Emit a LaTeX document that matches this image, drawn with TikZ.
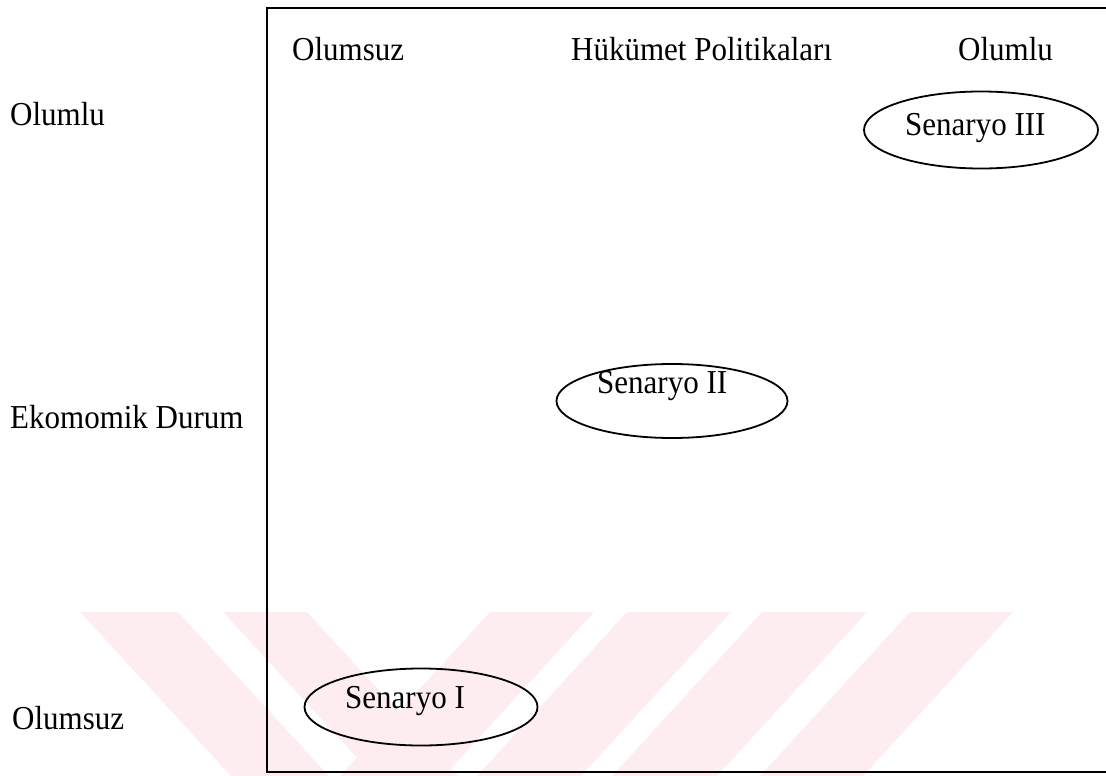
\documentclass[tikz,border=0pt]{standalone}
\usepackage{fontspec}
\usepackage{graphicx}
\setmainfont{Liberation Serif}
\usetikzlibrary{shapes.geometric}
\definecolor{wmpink}{RGB}{253,237,240}
\newcommand\stretchtxt[1]{\scalebox{1}[1.08]{#1}}
\tikzset{
  lbl/.style={font=\fontsize{31}{37}\selectfont, inner sep=0pt, anchor=base west},
  scen/.style={draw, ellipse, line width=1.8pt, inner sep=0pt},
  frameline/.style={line width=2.4pt},
  wm/.style={fill=wmpink, draw=none}
}
\begin{document}
\begin{tikzpicture}[x=1pt,y=-1pt]
\useasboundingbox (0,0) rectangle (1106,776);
% watermark
\fill[wm] (80,612) -- (178,612) -- (329,776) -- (231,776) -- cycle;
\fill[wm] (223,612) -- (307,612) -- (458,776) -- (374,776) -- cycle;
\fill[wm] (490,612) -- (594,612) -- (444,776) -- (340,776) -- cycle;
\fill[wm] (627,612) -- (731,612) -- (581,776) -- (477,776) -- cycle;
\fill[wm] (762,612) -- (867,612) -- (717,776) -- (612,776) -- cycle;
\fill[wm] (910,612) -- (1013,612) -- (863,776) -- (760,776) -- cycle;
% frame
\coordinate (tr) at (1106,8);
\coordinate (tl) at (267,8);
\coordinate (bl) at (267,772);
\coordinate (br) at (1106,772);
\draw[frameline] (tr) -- (tl) -- (bl) -- (br);
% axis labels
\node[lbl] (top1) at (292,60) {\stretchtxt{Olumsuz}};
\node[lbl] (top2) at (571,60) {\stretchtxt{Hükümet Politikaları}};
\node[lbl] (top3) at (958,60) {\stretchtxt{Olumlu}};
\node[lbl] (left1) at (10,125) {\stretchtxt{Olumlu}};
\node[lbl] (left2) at (10,428) {\stretchtxt{Ekomomik Durum}};
\node[lbl] (left3) at (12,729) {\stretchtxt{Olumsuz}};
% scenarios
\node[scen, minimum width=234pt, minimum height=77pt] (s3) at (981,130) {};
\node[lbl] (s3t) at (905,135) {\stretchtxt{Senaryo III}};
\node[scen, minimum width=231pt, minimum height=74pt] (s2) at (672,401) {};
\node[lbl] (s2t) at (597,393) {\stretchtxt{Senaryo II}};
\node[scen, minimum width=233pt, minimum height=77pt] (s1) at (421,707) {};
\node[lbl] (s1t) at (345,708) {\stretchtxt{Senaryo I}};
\end{tikzpicture}
\end{document}
